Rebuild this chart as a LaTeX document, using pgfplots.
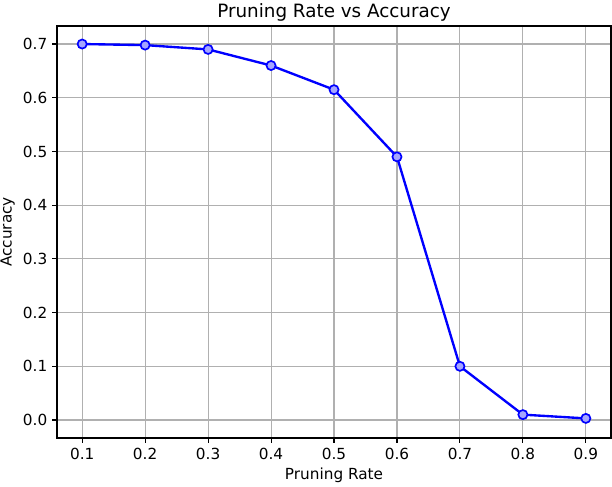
\documentclass[border=0pt]{standalone}
\usepackage{fontspec}
\setmainfont{DejaVu Sans}
\usepackage{pgfplots}
\pgfplotsset{compat=1.18}

\definecolor{gridgray}{HTML}{B0B0B0}

\begin{document}
\begin{tikzpicture}[x=0.72pt,y=0.72pt]
\begin{axis}[
  at={(0,0)}, anchor=south west,
  scale only axis,
  width=398.9pt, height=296.6pt,
  xmin=0.06, xmax=0.94,
  ymin=-0.0335, ymax=0.7335,
  xtick={0.1,0.2,...,0.9},
  ytick={0,0.1,...,0.7},
  xticklabel style={/pgf/number format/fixed,/pgf/number format/precision=1,/pgf/number format/fixed zerofill},
  yticklabel style={/pgf/number format/fixed,/pgf/number format/precision=1,/pgf/number format/fixed zerofill},
  /pgf/number format/assume math mode=true,
  tick label style={font=\fontsize{11}{13}\selectfont},
  label style={font=\fontsize{11}{13}\selectfont},
  title style={font=\fontsize{13.2}{15}\selectfont, yshift=-6pt},
  title={Pruning Rate vs Accuracy},
  xlabel={Pruning Rate},
  ylabel={Accuracy},
  grid=major,
  major grid style={gridgray, line width=0.8pt},
  axis line style={line width=0.8pt},
  tick style={black, line width=0.8pt},
  tick align=outside,
  major tick length=3.5pt,
  xtick pos=bottom, ytick pos=left,
  xlabel style={yshift=1pt},
  ylabel style={yshift=-1pt},
]
\addplot[blue, line width=1.7pt, mark=*, mark size=3.3pt,
  mark options={draw=blue, fill=blue!35, line width=1.2pt}]
  coordinates {
  (0.1,0.700) (0.2,0.698) (0.3,0.690) (0.4,0.660) (0.5,0.615)
  (0.6,0.490) (0.7,0.100) (0.8,0.010) (0.9,0.003)
};
\end{axis}
\pgfresetboundingbox
\path (-57,-48) rectangle (555,438);
\end{tikzpicture}
\end{document}
